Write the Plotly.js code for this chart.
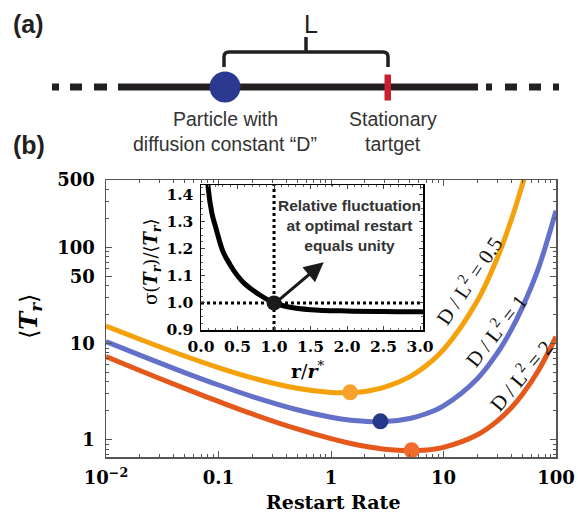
<!DOCTYPE html>
<html>
<head>
<meta charset="utf-8">
<script src="https://cdn.plot.ly/plotly-3.0.1.min.js"></script>
<style>html,body{margin:0;padding:0;background:#fff;}#chart{width:578px;height:514px;}</style>
</head>
<body>
<div id="chart"></div>
<script>
// ---------- data ----------
const rateOrange = [0.01, 0.02, 0.05, 0.1, 0.2, 0.5, 1, 1.5, 2, 3, 5, 7, 10, 20, 30, 40, 50, 55];
const meanOrange = [15.2, 11.1, 7.44, 5.64, 4.41, 3.44, 3.11, 3.10, 3.19, 3.53, 4.52, 5.89, 8.65, 27.9, 77.1, 192, 440, 650];

const rateBlue = [0.01, 0.02, 0.05, 0.1, 0.2, 0.5, 1, 1.5, 2, 3, 5, 7, 10, 20, 30, 40, 50, 70, 100];
const meanBlue = [10.5, 7.6, 5.01, 3.72, 2.82, 2.06, 1.72, 1.60, 1.56, 1.55, 1.67, 1.87, 2.26, 4.33, 7.94, 13.9, 23.5, 61.3, 240];

const rateRed = [0.01, 0.02, 0.05, 0.1, 0.2, 0.5, 1, 1.5, 2, 3, 5, 7, 10, 20, 30, 40, 50, 70, 100];
const meanRed = [7.33, 5.26, 3.43, 2.51, 1.86, 1.30, 1.03, 0.918, 0.859, 0.801, 0.772, 0.785, 0.836, 1.13, 1.57, 2.16, 2.95, 5.29, 11.8];

const optRate = [1.48, 2.75, 5.2];
const optMean = [3.12, 1.56, 0.78];

const insetRatio = [0.09, 0.1, 0.15, 0.2, 0.3, 0.4, 0.5, 0.6, 0.8, 1.0, 1.2, 1.5, 2.0, 2.5, 3.0, 3.04];
const insetCV = [1.47, 1.42, 1.33, 1.28, 1.19, 1.14, 1.10, 1.07, 1.03, 1.0, 0.985, 0.975, 0.970, 0.968, 0.967, 0.967];

const xTickVals = [0.01, 0.1, 1, 10, 100];
const xTickText = ['10<sup>\u22122</sup>', '0.1', '1', '10', '100'];
const yTickVals = [1, 10, 50, 100, 500];
const yTickText = ['1', '10', '50', '100', '500'];
const insetXTickVals = [0, 0.5, 1, 1.5, 2, 2.5, 3];
const insetXTickText = ['0.0', '0.5', '1.0', '1.5', '2.0', '2.5', '3.0'];
const insetYTickVals = [0.9, 1.0, 1.1, 1.2, 1.3, 1.4];
const insetYTickText = ['0.9', '1.0', '1.1', '1.2', '1.3', '1.4'];

// ---------- helpers: pixel -> paper ----------
const W = 578, H = 514;
const X = p => p / W;
const Y = p => 1 - p / H;

function minorLog(lo, hi) {
  const out = [];
  for (let e = lo; e < hi; e++) {
    for (let m = 2; m <= 9; m++) out.push(m * Math.pow(10, e));
  }
  return out;
}
const xMinor = minorLog(-2, 2);
const yMinor = minorLog(-1, 3).filter(v => v >= 0.65 && v <= 500 && v !== 50 && v !== 500);

const cOrange = '#F4A10B', cBlue = '#6471C9', cRed = '#E4581B';

const traces = [
  {x: rateOrange, y: meanOrange, mode: 'lines', line: {color: cOrange, width: 5, shape: 'spline'}, xaxis: 'x', yaxis: 'y', hoverinfo: 'skip'},
  {x: rateBlue, y: meanBlue, mode: 'lines', line: {color: cBlue, width: 5, shape: 'spline'}, xaxis: 'x', yaxis: 'y', hoverinfo: 'skip'},
  {x: rateRed, y: meanRed, mode: 'lines', line: {color: cRed, width: 5, shape: 'spline'}, xaxis: 'x', yaxis: 'y', hoverinfo: 'skip'},
  {x: optRate, y: optMean, mode: 'markers', marker: {size: 16, color: ['#F7A22E', '#24378A', '#F26A2C']}, xaxis: 'x', yaxis: 'y', hoverinfo: 'skip'},
  {x: insetRatio, y: insetCV, mode: 'lines', line: {color: '#000', width: 5, shape: 'spline'}, xaxis: 'x2', yaxis: 'y2', hoverinfo: 'skip'},
  {x: [1], y: [1], mode: 'markers', marker: {size: 15, color: '#1a1a1a'}, xaxis: 'x2', yaxis: 'y2', hoverinfo: 'skip'}
];

const serif = 'DejaVu Serif';
const sans = 'Liberation Sans, Arial, sans-serif';
const ink = '#231F20';

// panel (a) shapes
const lineY = Y(87);
const seg = (x0, x1) => ({type: 'line', xref: 'paper', yref: 'paper', x0: X(x0), x1: X(x1), y0: lineY, y1: lineY, line: {color: ink, width: 7}});
const bracketPath = 'M ' + X(224) + ',' + Y(67) + ' L ' + X(224) + ',' + Y(57) +
  ' Q ' + X(224) + ',' + Y(52) + ' ' + X(229) + ',' + Y(52) +
  ' L ' + X(383) + ',' + Y(52) +
  ' Q ' + X(388) + ',' + Y(52) + ' ' + X(388) + ',' + Y(57) +
  ' L ' + X(388) + ',' + Y(67) +
  ' M ' + X(306) + ',' + Y(52) + ' L ' + X(306) + ',' + Y(37);

const shapes = [
  seg(52, 59), seg(70, 82), seg(94, 107), seg(118, 478),
  seg(486, 492), seg(505, 517), seg(529, 541), seg(553, 559),
  {type: 'path', xref: 'paper', yref: 'paper', path: bracketPath, line: {color: ink, width: 3.5}},
  {type: 'circle', xref: 'paper', yref: 'paper', x0: X(209.5), x1: X(240.5), y0: Y(102.5), y1: Y(71.5), fillcolor: '#2B3A90', line: {width: 0}},
  {type: 'rect', xref: 'paper', yref: 'paper', x0: X(384.5), x1: X(391), y0: Y(100.5), y1: Y(74.5), fillcolor: '#C8202F', line: {width: 0}},
  // inset guides
  {type: 'line', xref: 'x2', yref: 'y2', x0: 1, x1: 1, y0: 0.9, y1: 1.435, line: {color: '#000', width: 3, dash: 'dot'}, layer: 'below'},
  {type: 'line', xref: 'x2', yref: 'y2', x0: 0, x1: 3.04, y0: 1, y1: 1, line: {color: '#000', width: 3, dash: 'dot'}, layer: 'below'}
];

const ann = (px, py, text, font, extra) => Object.assign({xref: 'paper', yref: 'paper', x: X(px), y: Y(py), text: text, showarrow: false, xanchor: 'center', yanchor: 'middle', font: font}, extra || {});

const annotations = [
  ann(28, 24, '(a)', {family: sans, size: 25, color: ink, weight: 'bold'}),
  ann(29, 145, '(b)', {family: sans, size: 25, color: ink, weight: 'bold'}),
  ann(311, 24, 'L', {family: sans, size: 25, color: ink}),
  ann(225, 119, 'Particle with', {family: sans, size: 19.5, color: '#333'}),
  ann(225, 144, 'diffusion constant \u201CD\u201D', {family: sans, size: 19.5, color: '#333'}),
  ann(393, 119, 'Stationary', {family: sans, size: 19.5, color: '#333'}),
  ann(393, 144, 'tartget', {family: sans, size: 19.5, color: '#333'}),
  // main axis titles
  ann(30, 317, '\u27E8<b><i>T</i></b><sub><b><i>r</i></b></sub>\u27E9', {family: serif, size: 24, color: '#000'}, {textangle: -90}),
  ann(333, 502, 'Restart Rate', {family: serif, size: 19, color: '#000', weight: 'bold'}),
  // inset titles
  ann(152, 262, '\u03C3(<b><i>T</i></b><sub><b><i>r</i></b></sub>)/\u27E8<b><i>T</i></b><sub><b><i>r</i></b></sub>\u27E9', {family: serif, size: 18, color: '#000'}, {textangle: -90}),
  ann(308, 370, '<b>r</b>/<b><i>r</i></b><sup>*</sup>', {family: serif, size: 19, color: '#000'}),
  ann(349, 225, 'Relative fluctuation<br>at optimal restart<br>equals unity', {family: sans, size: 15.5, color: '#333', weight: 'bold'}),
  // curve labels
  ann(468, 280, 'D / L<sup>2</sup> = 0.5', {family: 'Liberation Serif, serif', size: 21, color: '#111'}, {textangle: -56}),
  ann(495, 330, 'D / L<sup>2</sup> = 1', {family: 'Liberation Serif, serif', size: 21, color: '#111'}, {textangle: -52}),
  ann(520, 375, 'D / L<sup>2</sup> = 2', {family: 'Liberation Serif, serif', size: 21, color: '#111'}, {textangle: -50}),
  // inset arrow
  {xref: 'x2', yref: 'y2', axref: 'x2', ayref: 'y2', x: 1.68, y: 1.15, ax: 1.04, ay: 1.005, text: '', showarrow: true, arrowhead: 2, arrowsize: 1.3, arrowwidth: 3, arrowcolor: '#1a1a1a'}
];

const tickFontMain = {family: serif, size: 18, color: '#000', weight: 'bold'};
const tickFontInset = {family: serif, size: 15.5, color: '#000', weight: 'bold'};

const layout = {
  width: W, height: H,
  margin: {l: 0, r: 0, t: 0, b: 0},
  paper_bgcolor: '#fff', plot_bgcolor: 'rgba(0,0,0,0)',
  showlegend: false,
  font: {family: serif},
  xaxis: {
    type: 'log', range: [-2, 2], domain: [X(106), X(556)], anchor: 'y',
    showgrid: false, zeroline: false, showline: true, linecolor: '#555', linewidth: 1.5, mirror: 'ticks',
    ticks: 'inside', ticklen: 6, tickwidth: 1, tickcolor: '#555',
    tickmode: 'array', tickvals: xTickVals, ticktext: xTickText, tickfont: tickFontMain, ticklabelstandoff: 4,
    minor: {tickmode: 'array', tickvals: xMinor, ticks: 'inside', ticklen: 3, tickcolor: '#555', showgrid: false}
  },
  yaxis: {
    type: 'log', range: [Math.log10(0.665), Math.log10(500)], domain: [Y(457), Y(180)], anchor: 'x',
    showgrid: false, zeroline: false, showline: true, linecolor: '#555', linewidth: 1.5, mirror: 'ticks',
    ticks: 'inside', ticklen: 6, tickwidth: 1, tickcolor: '#555',
    tickmode: 'array', tickvals: yTickVals, ticktext: yTickText, tickfont: tickFontMain, ticklabelstandoff: 6,
    minor: {tickmode: 'array', tickvals: yMinor, ticks: 'inside', ticklen: 3, tickcolor: '#555', showgrid: false}
  },
  xaxis2: {
    range: [0, 3.04], domain: [X(201), X(423)], anchor: 'y2',
    showgrid: false, zeroline: false, showline: true, linecolor: '#000', linewidth: 1.5, mirror: 'ticks',
    ticks: 'inside', ticklen: 4, tickcolor: '#444',
    tickmode: 'array', tickvals: insetXTickVals, ticktext: insetXTickText, tickfont: tickFontInset, ticklabelstandoff: 2,
    minor: {dtick: 0.1, ticks: 'inside', ticklen: 2, tickcolor: '#666', showgrid: false}
  },
  yaxis2: {
    range: [0.9, 1.435], domain: [Y(330), Y(185)], anchor: 'x2',
    showgrid: false, zeroline: false, showline: true, linecolor: '#000', linewidth: 1.5, mirror: 'ticks',
    ticks: 'inside', ticklen: 4, tickcolor: '#444',
    tickmode: 'array', tickvals: insetYTickVals, ticktext: insetYTickText, tickfont: tickFontInset, ticklabelstandoff: 3,
    minor: {dtick: 0.025, ticks: 'inside', ticklen: 2, tickcolor: '#666', showgrid: false}
  },
  shapes: shapes,
  annotations: annotations
};

Plotly.newPlot('chart', traces, layout, {staticPlot: true, displayModeBar: false});
</script>
</body>
</html>
